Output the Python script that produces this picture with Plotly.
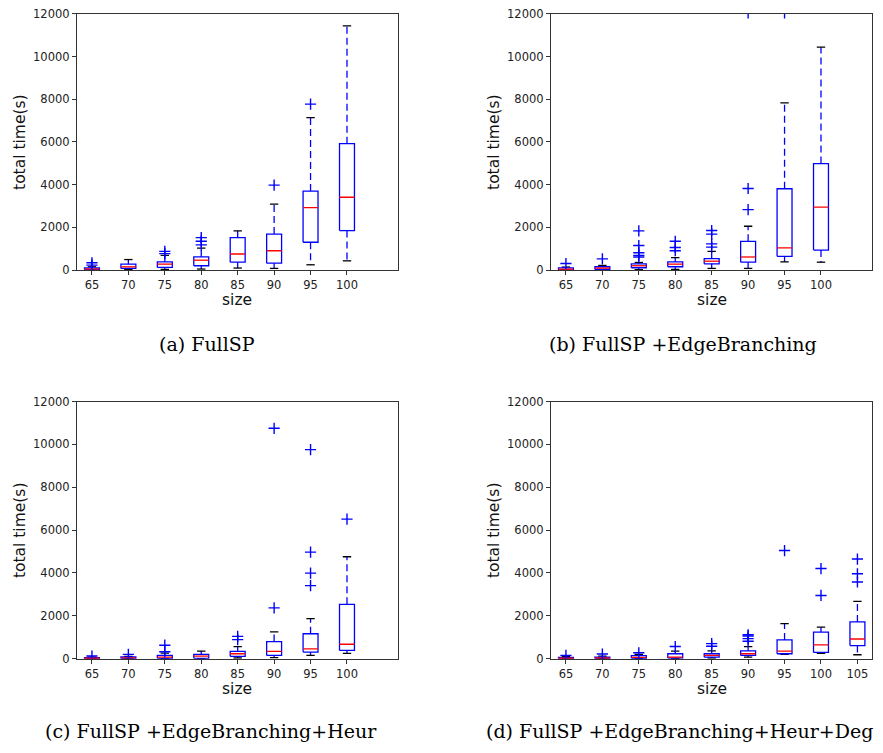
import plotly.graph_objects as go

W, H = 883, 753

# ---- data: run-time distributions (seconds) per instance size ----
sizes_abc = [65, 70, 75, 80, 85, 90, 95, 100]
sizes_d = [65, 70, 75, 80, 85, 90, 95, 100, 105]

# (a) FullSP
a_q1 = [20, 76, 123, 200, 367, 321, 1300, 1850]
a_med = [50, 150, 276, 460, 750, 902, 2920, 3410]
a_q3 = [100, 275, 383, 613, 1514, 1682, 3700, 5917]
a_lo = [5, 30, 30, 46, 92, 76, 245, 430]
a_hi = [150, 490, 690, 1027, 1835, 3090, 7140, 11440]
a_out = [[230, 337], [], [767, 874], [1180, 1350, 1518], [], [3975], [7770], []]

# (b) FullSP +EdgeBranching
b_q1 = [10, 30, 107, 153, 290, 367, 642, 933]
b_med = [40, 90, 200, 275, 413, 611, 1040, 2950]
b_q3 = [100, 153, 290, 382, 535, 1345, 3807, 4985]
b_lo = [2, 5, 15, 30, 76, 76, 382, 367]
b_hi = [138, 214, 352, 581, 872, 2050, 7830, 10440]
b_out = [[306], [520], [612, 688, 811, 1147, 1836], [903, 1055, 1346],
         [1071, 1224, 1683, 1851], [2830, 3820, 12050], [12050], []]

# (c) FullSP +EdgeBranching+Heur
c_q1 = [5, 10, 15, 15, 107, 153, 306, 382]
c_med = [20, 35, 76, 122, 230, 336, 459, 673]
c_q3 = [45, 80, 150, 200, 336, 795, 1162, 2538]
c_lo = [2, 3, 5, 5, 30, 46, 153, 245]
c_hi = [70, 110, 260, 352, 566, 1254, 1865, 4755]
c_out = [[122], [200], [320, 627], [], [887, 1040], [2370, 10750],
         [3410, 3990, 4970, 9755], [6514]]

# (d) FullSP +EdgeBranching+Heur+Deg
d_q1 = [5, 10, 20, 30, 76, 153, 230, 290, 612]
d_med = [20, 30, 60, 76, 153, 230, 352, 642, 918]
d_q3 = [60, 75, 138, 230, 230, 367, 872, 1240, 1713]
d_lo = [2, 3, 5, 5, 30, 76, 200, 245, 183]
d_hi = [100, 120, 200, 352, 367, 565, 1636, 1468, 2676]
d_out = [[153], [214], [275], [566], [581, 703], [810, 933, 1055, 1116],
         [5046], [2950, 4205], [3578, 3960, 4648]]

captions = ["(a) FullSP", "(b) FullSP +EdgeBranching",
            "(c) FullSP +EdgeBranching+Heur", "(d) FullSP +EdgeBranching+Heur+Deg"]

y_ticks = [0, 2000, 4000, 6000, 8000, 10000, 12000]

panels = [
    (sizes_abc, a_q1, a_med, a_q3, a_lo, a_hi, a_out),
    (sizes_abc, b_q1, b_med, b_q3, b_lo, b_hi, b_out),
    (sizes_abc, c_q1, c_med, c_q3, c_lo, c_hi, c_out),
    (sizes_d, d_q1, d_med, d_q3, d_lo, d_hi, d_out),
]

# ---- layout geometry (pixels) ----
px_x = [(77, 398), (551, 872), (77, 398), (551, 872)]
px_y = [(7, 268), (7, 268), (402, 664), (402, 664)]
cap_pos = [(207, 343), (683, 343), (211, 738), (679, 738)]
HALF_BOX = 0.205
HALF_CAP = 0.115

BLUE = "#0000ff"
RED = "#ff0000"

fig = go.Figure()

for i, (sizes, q1, med, q3, lo, hi, out) in enumerate(panels):
    ax = "" if i == 0 else str(i + 1)
    xref, yref = "x" + ax, "y" + ax
    pos = list(range(1, len(sizes) + 1))

    bx, by, mx, my, wx, wy, cx, cy, ox, oy = ([] for _ in range(10))
    for p, a1, m, a3, l, h, o in zip(pos, q1, med, q3, lo, hi, out):
        bx += [p - HALF_BOX, p + HALF_BOX, p + HALF_BOX, p - HALF_BOX, p - HALF_BOX, None]
        by += [a1, a1, a3, a3, a1, None]
        mx += [p - HALF_BOX, p + HALF_BOX, None]
        my += [m, m, None]
        wx += [p, p, None, p, p, None]
        wy += [a1, l, None, a3, h, None]
        cx += [p - HALF_CAP, p + HALF_CAP, None, p - HALF_CAP, p + HALF_CAP, None]
        cy += [l, l, None, h, h, None]
        ox += [p] * len(o)
        oy += o

    common = dict(xaxis=xref, yaxis=yref, showlegend=False, hoverinfo="skip")
    fig.add_trace(go.Scatter(x=wx, y=wy, mode="lines",
                             line=dict(color=BLUE, width=1.3, dash="7px,4px"), **common))
    fig.add_trace(go.Scatter(x=cx, y=cy, mode="lines",
                             line=dict(color="black", width=1.3), **common))
    fig.add_trace(go.Scatter(x=bx, y=by, mode="lines",
                             line=dict(color=BLUE, width=1.3), **common))
    fig.add_trace(go.Scatter(x=mx, y=my, mode="lines",
                             line=dict(color=RED, width=1.3), **common))
    fig.add_trace(go.Scatter(x=ox, y=oy, mode="markers",
                             marker=dict(symbol="cross-thin-open", size=8, color=BLUE,
                                         line=dict(color=BLUE, width=1.4)), **common))

    x0, x1 = px_x[i]
    y0, y1 = px_y[i]
    axis_style = dict(showline=True, linecolor="#333333", linewidth=1.1, mirror=True,
                      ticks="outside", ticklen=4, tickwidth=1, tickcolor="#333333",
                      showgrid=False, zeroline=False,
                      tickfont=dict(family="DejaVu Sans", size=11.5, color="#222222"))
    fig.layout["xaxis" + ax] = dict(domain=[x0 / W, x1 / W], anchor=yref,
                                    range=[0.59, 9.4], tickvals=pos,
                                    ticktext=[str(s) for s in sizes], **axis_style)
    fig.layout["yaxis" + ax] = dict(domain=[1 - y1 / H, 1 - y0 / H], anchor=xref,
                                    range=[0, 12000], tickvals=y_ticks,
                                    ticktext=[str(t) for t in y_ticks], **axis_style)

    # axis titles
    fig.add_annotation(x=(x0 + x1) / 2 / W, y=1 - (y1 + 31) / H, xref="paper", yref="paper",
                       xanchor="center", yanchor="middle",
                       text="size", showarrow=False,
                       font=dict(family="DejaVu Sans", size=15.5, color="#111111"))
    fig.add_annotation(x=(x0 - 57) / W, y=1 - (y0 + y1) / 2 / H, xref="paper", yref="paper",
                       xanchor="center", yanchor="middle",
                       text="total time(s)", textangle=-90, showarrow=False,
                       font=dict(family="DejaVu Sans", size=15.5, color="#111111"))
    # sub-figure caption
    cxp, cyp = cap_pos[i]
    fig.add_annotation(x=cxp / W, y=1 - cyp / H, xref="paper", yref="paper",
                       xanchor="center", yanchor="middle",
                       text=captions[i], showarrow=False,
                       font=dict(family="DejaVu Serif", size=19, color="#000000"))

fig.update_layout(width=W, height=H, margin=dict(l=0, r=0, t=0, b=0),
                  paper_bgcolor="white", plot_bgcolor="white")

fig.write_html("out.html")
